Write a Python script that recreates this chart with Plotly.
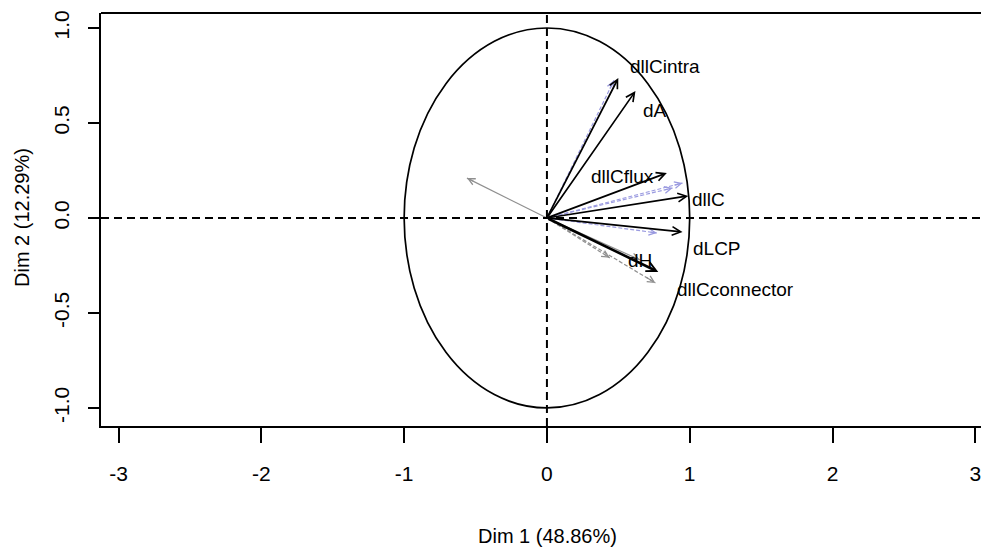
import plotly.graph_objects as go

# ---- data ----
var_names = ["dllCintra", "dA", "dllCflux", "dllC", "dLCP", "dH"]
var_x = [0.50, 0.62, 0.84, 0.99, 0.95, 0.78]
var_y = [0.737, 0.668, 0.237, 0.116, -0.074, -0.284]

label_x = [0.83, 0.76, 0.53, 1.13, 1.19, 0.65, 1.32]
label_y = [0.795, 0.568, 0.216, 0.095, -0.158, -0.226, -0.379]
label_text = ["dllCintra", "dA", "dllCflux", "dllC", "dLCP", "dH", "dllCconnector"]

# supplementary (blue dashed) arrows
supp_x = [0.47, 0.95, 0.88, 0.77]
supp_y = [0.725, 0.184, 0.158, -0.079]

# grey arrows
grey_x = [-0.56, 0.44, 0.76, 0.65]
grey_y = [0.21, -0.21, -0.342, -0.22]
grey_dash = ["solid", "4px,2px", "4px,2px", "solid"]

x_ticks = [-3, -2, -1, 0, 1, 2, 3]
x_tick_text = ["-3", "-2", "-1", "0", "1", "2", "3"]
y_ticks = [-1.0, -0.5, 0.0, 0.5, 1.0]
y_tick_text = ["-1.0", "-0.5", "0.0", "0.5", "1.0"]

x_title = "Dim 1 (48.86%)"
y_title = "Dim 2 (12.29%)"

FONT = "Liberation Sans, Arial, sans-serif"
BLUE = "#9a9ae0"
GREY = "#8f8f8f"

fig = go.Figure()

annotations = []

# grey arrows
for gx, gy, gd in zip(grey_x, grey_y, grey_dash):
    fig.add_trace(go.Scatter(x=[0, gx], y=[0, gy], mode="lines",
                             line=dict(color=GREY, width=1.2, dash=gd),
                             showlegend=False, hoverinfo="skip"))
    annotations.append(dict(x=gx, y=gy, ax=gx * 0.9, ay=gy * 0.9,
                            xref="x", yref="y", axref="x", ayref="y",
                            showarrow=True, arrowhead=5, arrowsize=1.1,
                            arrowwidth=1.2, arrowcolor=GREY, text=""))

# supplementary blue dashed arrows
for sx, sy in zip(supp_x, supp_y):
    fig.add_trace(go.Scatter(x=[0, sx], y=[0, sy], mode="lines",
                             line=dict(color=BLUE, width=1.2, dash="4px,2px"),
                             showlegend=False, hoverinfo="skip"))
    annotations.append(dict(x=sx, y=sy, ax=sx * 0.93, ay=sy * 0.93,
                            xref="x", yref="y", axref="x", ayref="y",
                            showarrow=True, arrowhead=5, arrowsize=1.1,
                            arrowwidth=1.2, arrowcolor=BLUE, text=""))

# active variable arrows (black)
for name, vx, vy in zip(var_names, var_x, var_y):
    thick = name == "dH"
    annotations.append(dict(x=vx, y=vy, ax=0, ay=0,
                            xref="x", yref="y", axref="x", ayref="y",
                            showarrow=True, arrowhead=5,
                            arrowsize=0.75 if thick else 1.0,
                            arrowwidth=2.6 if thick else 1.7,
                            arrowcolor="black", text=""))

# variable labels
for t, lx, ly in zip(label_text, label_x, label_y):
    annotations.append(dict(x=lx, y=ly, xref="x", yref="y", text=t,
                            showarrow=False, xanchor="center", yanchor="middle",
                            font=dict(family=FONT, size=19, color="black")))

# axis titles
annotations.append(dict(x=(547 - 101) / 880, y=(426 - 536) / 413, xref="paper", yref="paper",
                        text=x_title, showarrow=False, xanchor="center", yanchor="middle",
                        font=dict(family=FONT, size=20, color="black")))
annotations.append(dict(x=(22 - 101) / 880, y=(426 - 218) / 413, xref="paper", yref="paper",
                        text=y_title, showarrow=False, xanchor="center", yanchor="middle",
                        textangle=-90, font=dict(family=FONT, size=20, color="black")))

shapes = [
    # unit circle
    dict(type="circle", xref="x", yref="y", x0=-1, y0=-1, x1=1, y1=1,
         line=dict(color="black", width=1.7), layer="below"),
    # dashed axes through origin
    dict(type="line", xref="paper", yref="y", x0=0, x1=1, y0=0, y1=0,
         line=dict(color="black", width=2, dash="8px,5px")),
    dict(type="line", xref="x", yref="paper", x0=0, x1=0, y0=0, y1=1,
         line=dict(color="black", width=2, dash="8px,5px")),
    # top border of box
    dict(type="line", xref="paper", yref="paper", x0=0, x1=1, y0=1, y1=1,
         line=dict(color="black", width=2)),
]

fig.update_layout(
    width=981, height=551,
    margin=dict(l=101, r=0, t=13, b=125),
    paper_bgcolor="white", plot_bgcolor="white",
    showlegend=False,
    font=dict(family=FONT, color="black"),
    annotations=annotations,
    shapes=shapes,
    xaxis=dict(range=[-3.123, 3.04], tickvals=x_ticks, ticktext=x_tick_text,
               ticks="outside", ticklen=15, tickwidth=1.5, tickcolor="black",
               showline=True, linecolor="black", linewidth=2,
               showgrid=False, zeroline=False,
               tickfont=dict(family=FONT, size=21, color="black"),
               ticklabelstandoff=13, ticklabeloverflow="allow"),
    yaxis=dict(range=[-1.095, 1.079], tickvals=y_ticks, ticktext=y_tick_text,
               ticks="outside", ticklen=11, tickwidth=1.5, tickcolor="black",
               tickangle=-90,
               showline=True, linecolor="black", linewidth=2,
               showgrid=False, zeroline=False,
               tickfont=dict(family=FONT, size=21, color="black"),
               ticklabelstandoff=11, ticklabeloverflow="allow"),
)

fig.write_html("out.html")
